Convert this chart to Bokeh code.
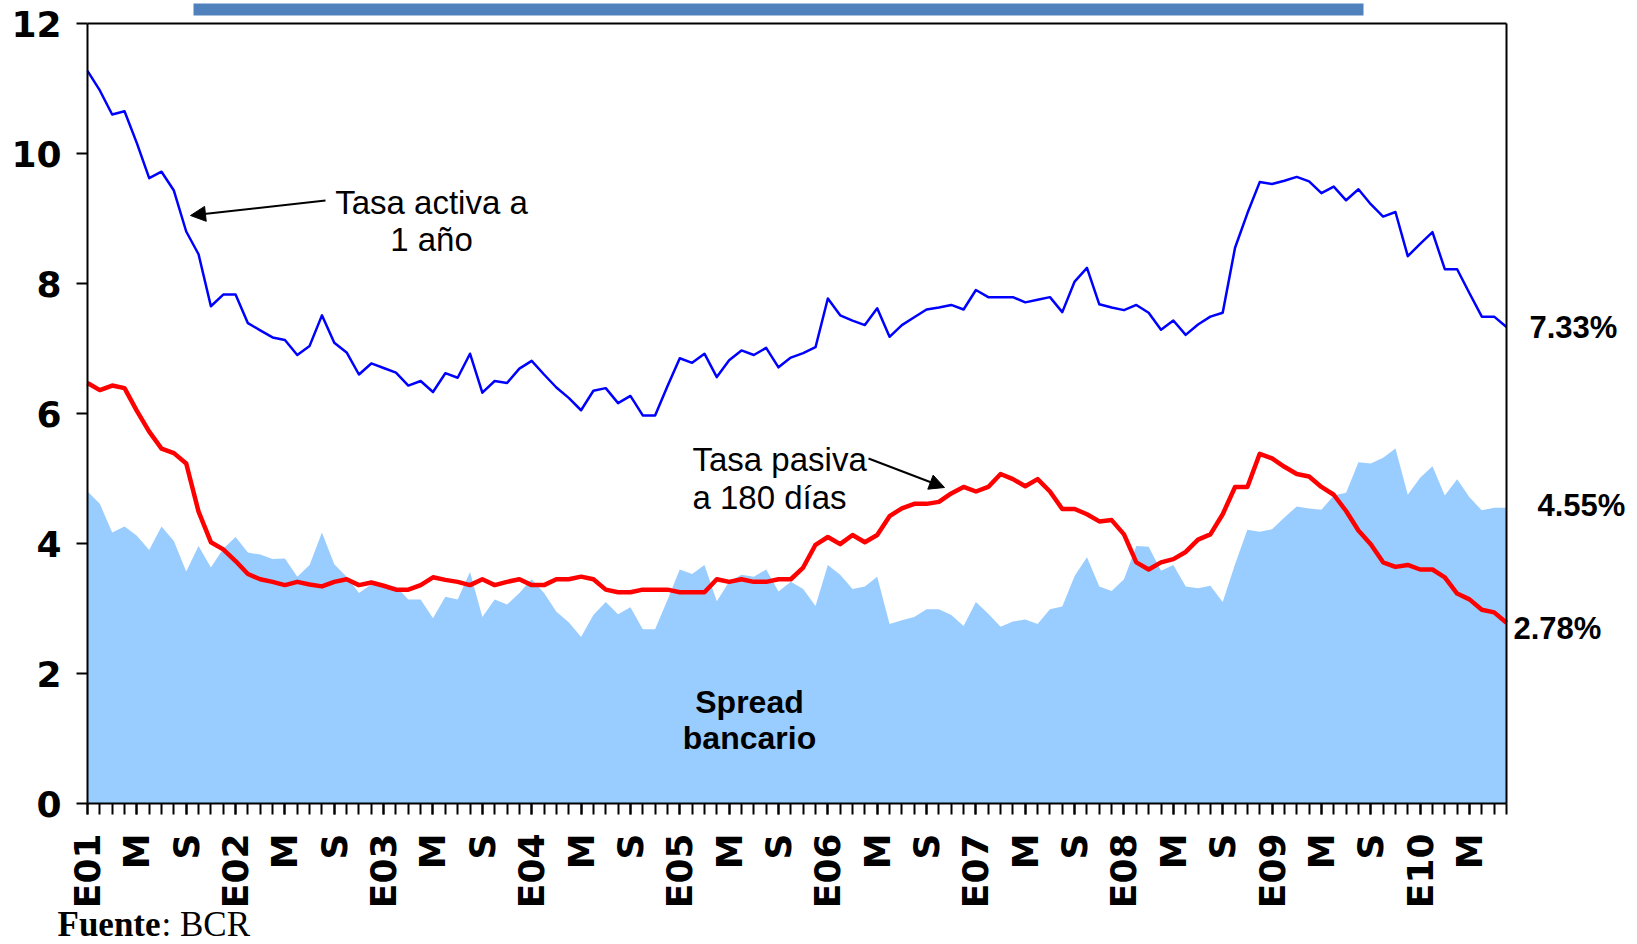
import math
from bokeh.plotting import figure
from bokeh.models import Range1d, FixedTicker, Label, Arrow, NormalHead, BoxAnnotation, ColumnDataSource
from bokeh.embed import file_html
from bokeh.resources import INLINE

# Tasa activa a 1 año (%), monthly Jan-2001 .. Aug-2010
activa = [
    11.27, 10.97, 10.60, 10.65, 10.16, 9.62, 9.72, 9.43, 8.80, 8.45, 7.65, 7.83,
    7.83, 7.39, 7.28, 7.17, 7.13, 6.90, 7.04, 7.51, 7.09, 6.94, 6.60, 6.77,
    6.70, 6.63, 6.43, 6.50, 6.33, 6.62, 6.55, 6.92, 6.32, 6.50, 6.47, 6.69,
    6.81, 6.60, 6.40, 6.24, 6.05, 6.35, 6.39, 6.16, 6.27, 5.97, 5.97, 6.42,
    6.85, 6.78, 6.92, 6.56, 6.82, 6.97, 6.90, 7.01, 6.71, 6.86, 6.93, 7.02,
    7.77, 7.51, 7.43, 7.36, 7.62, 7.18, 7.36, 7.48, 7.60, 7.63, 7.67, 7.60,
    7.90, 7.79, 7.79, 7.79, 7.71, 7.75, 7.79, 7.56, 8.03, 8.24, 7.68, 7.63,
    7.59, 7.67, 7.55, 7.29, 7.43, 7.21, 7.37, 7.49, 7.55, 8.55, 9.08, 9.56,
    9.53, 9.58, 9.64, 9.57, 9.39, 9.49, 9.28, 9.45, 9.22, 9.03, 9.10, 8.42,
    8.61, 8.79, 8.22, 8.22, 7.85, 7.49, 7.49, 7.33,
]

# Tasa pasiva a 180 días (%)
pasiva = [
    6.47, 6.36, 6.43, 6.39, 6.04, 5.72, 5.46, 5.39, 5.23, 4.49, 4.02, 3.91,
    3.73, 3.53, 3.45, 3.41, 3.36, 3.41, 3.37, 3.34, 3.41, 3.45, 3.36, 3.40,
    3.35, 3.29, 3.29, 3.36, 3.48, 3.44, 3.41, 3.36, 3.45, 3.36, 3.41, 3.45,
    3.36, 3.36, 3.45, 3.45, 3.49, 3.45, 3.29, 3.25, 3.25, 3.29, 3.29, 3.29,
    3.25, 3.25, 3.25, 3.45, 3.41, 3.45, 3.41, 3.41, 3.45, 3.45, 3.63, 3.98,
    4.10, 3.99, 4.13, 4.02, 4.13, 4.42, 4.54, 4.61, 4.61, 4.64, 4.77, 4.87,
    4.80, 4.87, 5.07, 4.99, 4.88, 4.99, 4.80, 4.53, 4.53, 4.45, 4.34, 4.36,
    4.14, 3.71, 3.60, 3.71, 3.76, 3.87, 4.06, 4.14, 4.45, 4.87, 4.87, 5.38,
    5.31, 5.18, 5.07, 5.03, 4.87, 4.75, 4.50, 4.20, 3.99, 3.71, 3.64, 3.67,
    3.60, 3.60, 3.48, 3.23, 3.14, 2.98, 2.94, 2.78,
]

# Spread bancario = activa - pasiva
spread = [round(a - p, 2) for a, p in zip(activa, pasiva)]

# x tick labels every 4 months (E = enero, M = mayo, S = septiembre)
tick_labels = ["E01", "M", "S", "E02", "M", "S", "E03", "M", "S", "E04", "M", "S",
               "E05", "M", "S", "E06", "M", "S", "E07", "M", "S", "E08", "M", "S",
               "E09", "M", "S", "E10", "M"]
y_ticks = [0, 2, 4, 6, 8, 10, 12]
Y_MAX = 12

n = len(activa)
months = list(range(n))
src = ColumnDataSource(dict(x=months, activa=activa, pasiva=pasiva, spread=spread))

FONT = "Liberation Sans"
AXFONT = "DejaVu Sans"

# geometry (page pixels; canvas starts at the page's top-left corner)
W, H = 1632, 944
L = 87      # x of month 0 (the value axis)
FW = 1419   # width of the data box (months 0..n-1)
T = 23      # y of value 12
FH = 780    # height of the data box (0..12)
pxpm = FW / (n - 1)
ppu = FH / Y_MAX

def dx(px):
    return (px - L) / pxpm

def dy(py):
    return (T + FH - py) / ppu

# The frame covers the whole canvas; both axes are pinned at 0.
p = figure(frame_width=W, frame_height=H, min_border=0,
           x_range=Range1d(dx(0), dx(W)), y_range=Range1d(dy(H), dy(0)),
           output_backend="svg", toolbar_location=None,
           background_fill_color="white", border_fill_color="white")
p.xgrid.visible = False
p.ygrid.visible = False
p.outline_line_color = None

# Spread area
p.varea(x="x", y1=0, y2="spread", source=src, fill_color="#99CCFF", fill_alpha=1.0)
# Lines
p.line(x="x", y="pasiva", source=src, line_color="#FF0000", line_width=4.5, line_join="round")
p.line(x="x", y="activa", source=src, line_color="#0000FF", line_width=2.5, line_join="round")

# Box border (top and right)
p.line(x=[months[0], months[-1]], y=[Y_MAX, Y_MAX], line_color="black", line_width=2)
p.line(x=[months[-1], months[-1]], y=[0, Y_MAX], line_color="black", line_width=2)

# Y axis
ya = p.yaxis[0]
ya.fixed_location = 0
ya.ticker = FixedTicker(ticks=y_ticks)
ya.bounds = (0, Y_MAX)
ya.axis_line_color = "black"
ya.axis_line_width = 2
ya.major_tick_in = 0
ya.major_tick_out = 11
ya.major_tick_line_width = 2
ya.minor_tick_line_color = None
ya.major_label_text_font = AXFONT
ya.major_label_text_font_style = "bold"
ya.major_label_text_font_size = "36px"
ya.major_label_text_color = "black"
ya.major_label_standoff = 15

# X axis
xa = p.xaxis[0]
xa.fixed_location = 0
major_x = list(range(0, n, 4))
xa.ticker = FixedTicker(ticks=major_x, minor_ticks=months)
xa.bounds = (0, n - 1)
xa.major_label_overrides = {int(k): lab for k, lab in zip(major_x, tick_labels)}
xa.axis_line_color = "black"
xa.axis_line_width = 2
xa.major_tick_in = 0
xa.major_tick_out = 11
xa.minor_tick_in = 0
xa.minor_tick_out = 11
xa.major_tick_line_width = 2
xa.minor_tick_line_width = 2
xa.minor_tick_line_color = "black"
xa.major_label_orientation = math.pi / 2
xa.major_label_text_font = AXFONT
xa.major_label_text_font_style = "bold"
xa.major_label_text_font_size = "36px"
xa.major_label_text_color = "black"
xa.major_label_standoff = 19

# Top bar (cut-off title box)
p.add_layout(BoxAnnotation(left=dx(193), right=dx(1363), bottom=dy(15), top=dy(3),
                           fill_color="#4F81BD", fill_alpha=1.0, line_color=None))

def lab(x, y, text, size="33px", bold=False, align="left", xo=0, yo=0, font=FONT):
    # y is the vertical centre of the capitals
    p.add_layout(Label(x=x, y=y, text=text, text_font=font, text_font_size=size,
                       text_font_style="bold" if bold else "normal", text_align=align,
                       text_baseline="middle", text_color="black", x_offset=xo, y_offset=yo))

lab(dx(431), dy(202), "Tasa activa a", align="center")
lab(dx(431), dy(239), "1 año", align="center")
p.add_layout(Arrow(end=NormalHead(size=15, fill_color="black", line_color="black"),
                   x_start=dx(325), y_start=dy(200), x_end=dx(190), y_end=dy(215),
                   line_color="black", line_width=2))

lab(dx(692), dy(459), "Tasa pasiva")
lab(dx(692), dy(497), "a 180 días")
p.add_layout(Arrow(end=NormalHead(size=15, fill_color="black", line_color="black"),
                   x_start=dx(868), y_start=dy(458), x_end=dx(944), y_end=dy(487),
                   line_color="black", line_width=2))

lab(dx(749), dy(701), "Spread", size="32px", bold=True, align="center")
lab(dx(749), dy(737), "bancario", size="32px", bold=True, align="center")

# End-value labels
lab(n - 1, activa[-1], f"{activa[-1]:.2f}%", size="31px", bold=True, xo=23)
lab(n - 1, spread[-1], f"{spread[-1]:.2f}%", size="31px", bold=True, xo=31, yo=2)
lab(n - 1, pasiva[-1], f"{pasiva[-1]:.2f}%", size="31px", bold=True, xo=7, yo=-6)

# Source note
lab(dx(57), dy(924), "Fuente", size="35px", bold=True, font="Liberation Serif")
lab(dx(161), dy(924), ": BCR", size="35px", font="Liberation Serif")

open("out.html", "w").write(file_html(p, INLINE))
